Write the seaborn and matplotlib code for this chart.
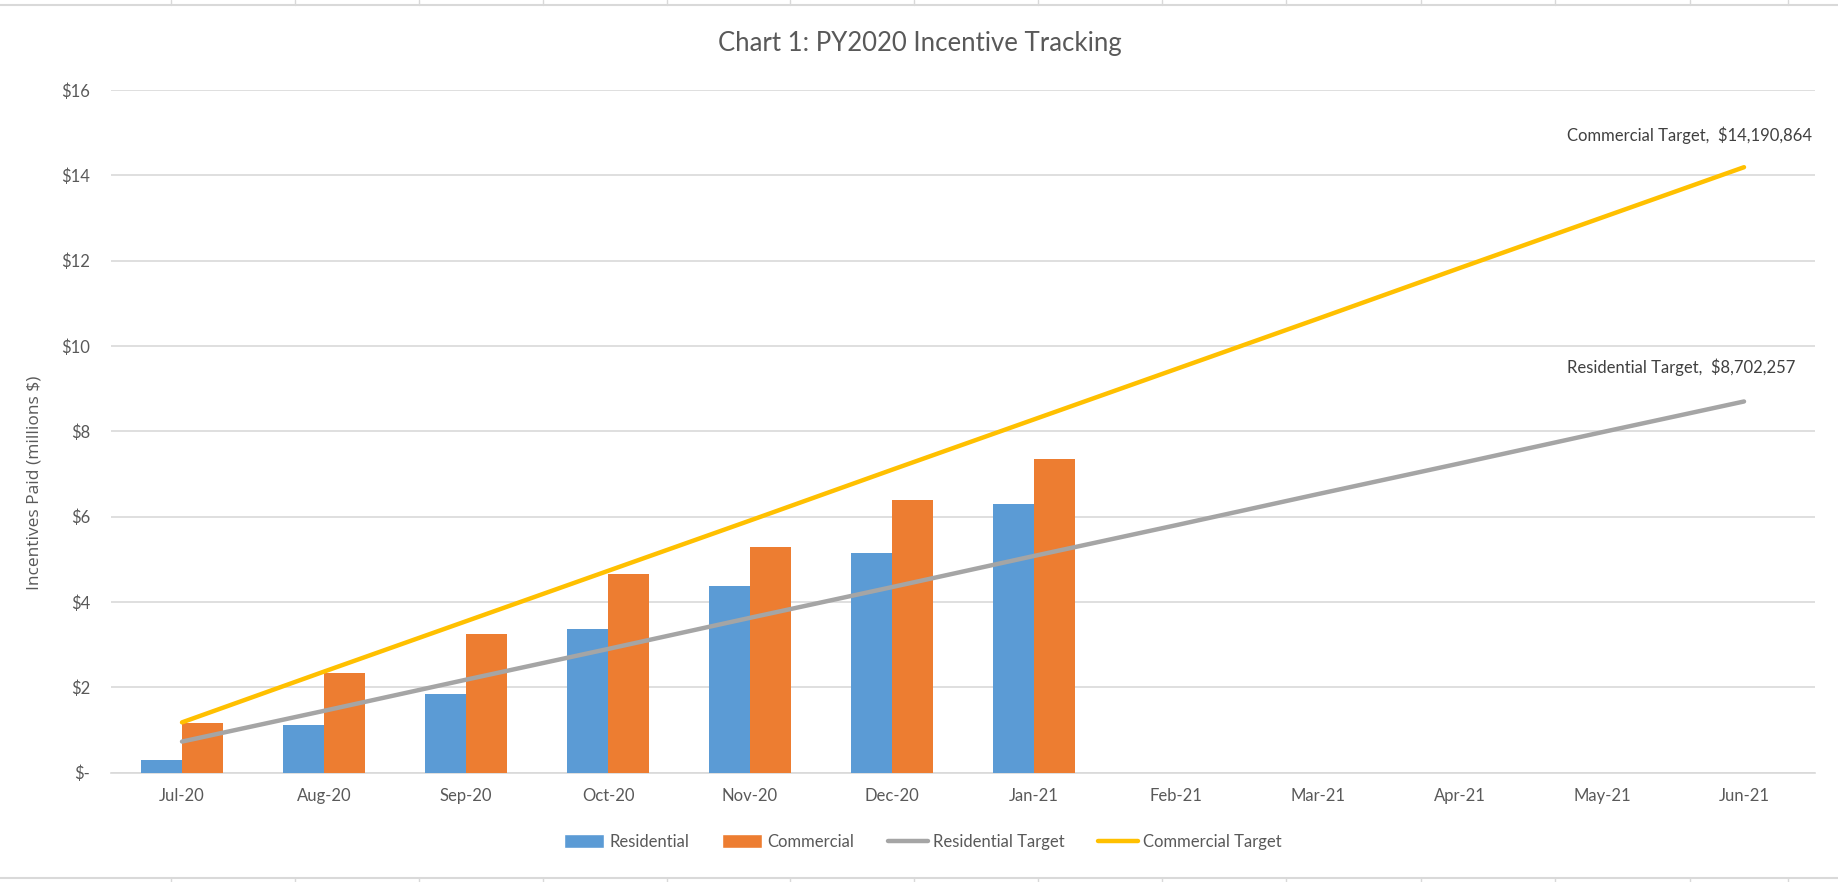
import numpy as np
import pandas as pd
import matplotlib
matplotlib.use("Agg")
import matplotlib.pyplot as plt
from matplotlib.patches import Patch
from matplotlib.lines import Line2D
from matplotlib.ticker import FuncFormatter
import seaborn as sns

# Data (millions $)
months = ["Jul-20", "Aug-20", "Sep-20", "Oct-20", "Nov-20", "Dec-20",
          "Jan-21", "Feb-21", "Mar-21", "Apr-21", "May-21", "Jun-21"]
bar_months = ["Jul-20", "Aug-20", "Sep-20", "Oct-20", "Nov-20", "Dec-20", "Jan-21"]
residential = [0.29, 1.13, 1.85, 3.37, 4.38, 5.14, 6.30]
commercial = [1.17, 2.33, 3.25, 4.66, 5.30, 6.39, 7.35]
residential_target = [0.73, 1.45, 2.18, 2.90, 3.63, 4.35, 5.08, 5.80, 6.53, 7.25, 7.98, 8.70]
commercial_target = [1.18, 2.37, 3.55, 4.73, 5.91, 7.10, 8.28, 9.46, 10.64, 11.83, 13.01, 14.19]
residential_target_label = "Residential Target,  $8,702,257"
commercial_target_label = "Commercial Target,  $14,190,864"
y_ticks = [0, 2, 4, 6, 8, 10, 12, 14, 16]

# Colours
blue = "#5B9BD5"
orange = "#ED7D31"
gray = "#A5A5A5"
yellow = "#FFC000"
text_color = "#595959"
grid_color = "#D9D9D9"

sns.set_theme(style="white")
plt.rcParams["font.family"] = ["Lato", "DejaVu Sans"]

bars = pd.DataFrame({
    "month": bar_months * 2,
    "segment": ["Residential"] * len(bar_months) + ["Commercial"] * len(bar_months),
    "value": residential + commercial,
})
targets = pd.DataFrame({
    "pos": list(range(len(months))) * 2,
    "series": ["Residential Target"] * len(months) + ["Commercial Target"] * len(months),
    "value": residential_target + commercial_target,
})

fig = plt.figure(figsize=(18.38, 8.82), dpi=100)
ax = fig.add_axes([0.0604, 0.1239, 0.9271, 0.7741])

sns.barplot(data=bars, x="month", y="value", hue="segment", order=months,
            hue_order=["Residential", "Commercial"], palette=[blue, orange],
            width=0.571, saturation=1, errorbar=None, linewidth=0,
            legend=False, ax=ax)
sns.lineplot(data=targets, x="pos", y="value", hue="series",
             palette={"Residential Target": gray, "Commercial Target": yellow},
             linewidth=3.2, legend=False, solid_capstyle="round", ax=ax)

# Axes styling
ax.set_xlim(-0.5, len(months) - 0.5)
ax.set_ylim(0, 16)
ax.set_yticks(y_ticks)
ax.yaxis.set_major_formatter(FuncFormatter(lambda v, p: f"${int(v)}" if v else "$-"))
ax.set_xticks(range(len(months)))
ax.set_xticklabels(months)
ax.set_xticks(np.arange(-0.5, len(months)), minor=True)
ax.tick_params(axis="x", which="major", length=0, pad=11, labelsize=12, labelcolor=text_color)
ax.tick_params(axis="x", which="minor", length=6, width=1, color=grid_color, direction="out")
ax.tick_params(axis="y", length=0, pad=15, labelsize=12, labelcolor=text_color)
ax.grid(axis="y", color=grid_color, linewidth=1.2)
ax.set_axisbelow(True)
for side in ["top", "right", "left"]:
    ax.spines[side].set_visible(False)
ax.spines["bottom"].set_color(grid_color)
ax.spines["bottom"].set_linewidth(1.2)
ax.spines["bottom"].set_zorder(0.5)

ax.set_xlabel("")
ax.set_ylabel("Incentives Paid (millions $)", fontsize=12.5, color=text_color,
              family=["Open Sans", "DejaVu Sans"])
ax.yaxis.set_label_coords(-0.040, 0.425)

# End-of-line labels
last = len(months) - 1
ax.text(last - 1.25, commercial_target[-1] + 0.75, commercial_target_label,
        ha="left", va="center", fontsize=12, color="#404040")
ax.text(last - 1.25, residential_target[-1] + 0.8, residential_target_label,
        ha="left", va="center", fontsize=12, color="#404040")

fig.text(0.5005, 0.951, "Chart 1: PY2020 Incentive Tracking", ha="center", va="center",
         fontsize=18.5, color=text_color)

handles = [
    Patch(facecolor=blue, label="Residential"),
    Patch(facecolor=orange, label="Commercial"),
    Line2D([], [], color=gray, linewidth=3.2, label="Residential Target"),
    Line2D([], [], color=yellow, linewidth=3.2, label="Commercial Target"),
]
fig.legend(handles=handles, loc="center", bbox_to_anchor=(0.502, 0.0454), ncol=4,
           frameon=False, fontsize=12, handlelength=2.4, handleheight=0.9,
           handletextpad=0.3, columnspacing=2.0, labelcolor=text_color)

# Sheet cell borders around the chart
cell_edges = [171, 295, 419, 543, 667, 790, 914, 1038, 1162, 1286, 1421, 1555, 1690, 1788]
W, H = 1838, 882
for y in [5, 878]:
    fig.add_artist(Line2D([0, 1], [1 - y / H, 1 - y / H], transform=fig.transFigure,
                          color=grid_color, linewidth=1.5))
for x in cell_edges:
    fig.add_artist(Line2D([x / W, x / W], [1, 1 - 5 / H], transform=fig.transFigure,
                          color=grid_color, linewidth=1))
    fig.add_artist(Line2D([x / W, x / W], [1 - 878 / H, 0], transform=fig.transFigure,
                          color=grid_color, linewidth=1))

fig.savefig("out.png", dpi=100)
